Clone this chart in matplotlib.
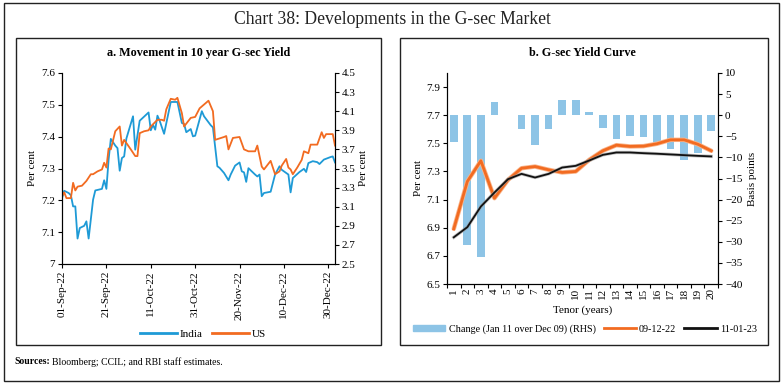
import numpy as np
import pandas as pd
import matplotlib
matplotlib.use('Agg')
import matplotlib.pyplot as plt
import matplotlib.dates as mdates
from matplotlib.patches import Rectangle
from matplotlib.lines import Line2D
from matplotlib import rcParams

rcParams['font.family'] = 'Liberation Serif'

C_IND = '#1E9AD6'
C_US = '#F26B21'
C_BAR = '#8DC4E6'
C_BLK = '#111111'

# ---- panel a data: 10-year yields ----
india_dates = ['2022-09-01', '2022-09-02', '2022-09-04', '2022-09-05', '2022-09-06', '2022-09-07',
               '2022-09-08', '2022-09-09', '2022-09-11', '2022-09-12', '2022-09-13', '2022-09-15',
               '2022-09-16', '2022-09-19', '2022-09-20', '2022-09-21', '2022-09-22', '2022-09-23',
               '2022-09-25', '2022-09-26', '2022-09-27', '2022-09-28', '2022-09-29', '2022-09-30',
               '2022-10-03', '2022-10-04', '2022-10-06', '2022-10-10', '2022-10-11', '2022-10-12',
               '2022-10-13', '2022-10-14', '2022-10-15', '2022-10-17', '2022-10-20', '2022-10-23',
               '2022-10-25', '2022-10-26', '2022-10-27', '2022-10-29', '2022-10-30', '2022-10-31',
               '2022-11-03', '2022-11-04', '2022-11-07', '2022-11-08', '2022-11-10', '2022-11-11',
               '2022-11-13', '2022-11-15', '2022-11-16', '2022-11-18', '2022-11-20', '2022-11-21',
               '2022-11-22', '2022-11-23', '2022-11-24', '2022-11-27', '2022-11-28', '2022-11-29',
               '2022-11-30', '2022-12-01', '2022-12-04', '2022-12-06', '2022-12-08', '2022-12-09',
               '2022-12-12', '2022-12-13', '2022-12-14', '2022-12-17', '2022-12-19', '2022-12-20',
               '2022-12-21', '2022-12-23', '2022-12-25', '2022-12-26', '2022-12-28', '2022-12-31',
               '2023-01-01', '2023-01-02']
india_yield = [7.207, 7.230, 7.223, 7.216, 7.181, 7.181,
               7.080, 7.113, 7.120, 7.134, 7.080, 7.202,
               7.231, 7.236, 7.263, 7.236, 7.328, 7.393,
               7.372, 7.364, 7.293, 7.333, 7.338, 7.394,
               7.464, 7.359, 7.450, 7.476, 7.420, 7.437,
               7.422, 7.466, 7.450, 7.409, 7.509, 7.509,
               7.443, 7.440, 7.414, 7.424, 7.401, 7.403,
               7.480, 7.464, 7.436, 7.429, 7.307, 7.302,
               7.286, 7.263, 7.281, 7.309, 7.319, 7.291,
               7.288, 7.258, 7.301, 7.281, 7.275, 7.281,
               7.213, 7.223, 7.227, 7.281, 7.307, 7.296,
               7.281, 7.225, 7.270, 7.289, 7.299, 7.289,
               7.317, 7.323, 7.320, 7.314, 7.328, 7.336,
               7.338, 7.319]

us_dates = ['2022-09-01', '2022-09-02', '2022-09-03', '2022-09-05', '2022-09-06', '2022-09-07',
            '2022-09-08', '2022-09-10', '2022-09-12', '2022-09-14', '2022-09-15', '2022-09-17',
            '2022-09-19', '2022-09-20', '2022-09-21', '2022-09-22', '2022-09-23', '2022-09-25',
            '2022-09-27', '2022-09-28', '2022-09-29', '2022-10-02', '2022-10-04', '2022-10-05',
            '2022-10-06', '2022-10-08', '2022-10-10', '2022-10-11', '2022-10-14', '2022-10-16',
            '2022-10-17', '2022-10-18', '2022-10-20', '2022-10-22', '2022-10-23', '2022-10-25',
            '2022-10-26', '2022-10-28', '2022-10-29', '2022-10-31', '2022-11-02', '2022-11-06',
            '2022-11-08', '2022-11-09', '2022-11-13', '2022-11-14', '2022-11-15', '2022-11-17',
            '2022-11-20', '2022-11-22', '2022-11-24', '2022-11-27', '2022-11-28', '2022-11-30',
            '2022-12-01', '2022-12-04', '2022-12-06', '2022-12-08', '2022-12-09', '2022-12-11',
            '2022-12-12', '2022-12-13', '2022-12-14', '2022-12-16', '2022-12-18', '2022-12-19',
            '2022-12-21', '2022-12-22', '2022-12-25', '2022-12-27', '2022-12-28', '2022-12-29',
            '2023-01-01', '2023-01-02']
us_yield = [3.21, 3.25, 3.19, 3.19, 3.35, 3.27,
            3.31, 3.32, 3.37, 3.44, 3.44, 3.47,
            3.49, 3.56, 3.51, 3.71, 3.70, 3.89,
            3.94, 3.74, 3.80, 3.70, 3.63, 3.63,
            3.87, 3.89, 3.90, 3.94, 4.01, 4.01,
            4.00, 4.12, 4.23, 4.22, 4.24, 4.08,
            3.94, 4.00, 4.03, 4.04, 4.13, 4.21,
            4.10, 3.80, 3.83, 3.84, 3.70, 3.82,
            3.83, 3.70, 3.68, 3.68, 3.74, 3.52,
            3.49, 3.58, 3.44, 3.47, 3.53, 3.60,
            3.51, 3.49, 3.44, 3.51, 3.59, 3.68,
            3.66, 3.75, 3.75, 3.88, 3.82, 3.86,
            3.86, 3.74]

date_ticks = ['2022-09-01', '2022-09-21', '2022-10-11', '2022-10-31',
              '2022-11-20', '2022-12-10', '2022-12-30']

# ---- panel b data: yield curve ----
tenor = list(range(1, 21))
curve_dec09 = [6.892, 7.229, 7.376, 7.110, 7.240, 7.323, 7.335, 7.312, 7.293, 7.300,
               7.383, 7.447, 7.487, 7.478, 7.480, 7.497, 7.525, 7.525, 7.494, 7.447]
curve_jan11 = [6.832, 6.904, 7.051, 7.150, 7.245, 7.283, 7.257, 7.283, 7.328, 7.340,
               7.378, 7.418, 7.435, 7.435, 7.430, 7.426, 7.421, 7.416, 7.411, 7.407]
change_bp = [-6.3, -30.7, -33.5, 3.1, 0.0, -3.2, -7.0, -3.2, 3.6, 3.6,
             0.8, -3.0, -5.7, -5.0, -5.1, -6.7, -8.1, -10.6, -8.9, -3.7]

W, H = 783, 384
fig = plt.figure(figsize=(W / 100, H / 100), dpi=100, facecolor='white')


def px_axes(x0, y0, x1, y1):
    return fig.add_axes([x0 / W, 1 - y1 / H, (x1 - x0) / W, (y1 - y0) / H])


def px_rect(x0, y0, x1, y1, lw=1.0):
    fig.patches.append(Rectangle((x0 / W, 1 - y1 / H), (x1 - x0) / W, (y1 - y0) / H,
                                 transform=fig.transFigure, fill=False,
                                 edgecolor='#222222', lw=lw))


# frames
px_rect(4, 3, 779, 381, lw=1.0)
px_rect(16, 38, 381, 345, lw=1.0)
px_rect(400, 38, 768, 345, lw=1.0)

fig.text(392 / W, 1 - 19 / H, 'Chart 38: Developments in the G-sec Market',
         ha='center', va='center', fontsize=12.7, color='#222222')
fig.text(14 / W, 1 - 362 / H, 'Sources:', ha='left', va='center',
         fontsize=7, fontweight='bold')
fig.text(52 / W, 1 - 362 / H, 'Bloomberg; CCIL; and RBI staff estimates.',
         ha='left', va='center', fontsize=7)

TICK_FS = 8

# ---------------- panel a ----------------
ax = px_axes(62, 73, 335, 264)
ax2 = ax.twinx()
di = pd.to_datetime(india_dates)
du = pd.to_datetime(us_dates)
ax.plot(di, india_yield, color=C_IND, lw=1.3)
ax2.plot(du, us_yield, color=C_US, lw=1.3)

ax.set_xlim(pd.Timestamp('2022-09-01'), pd.Timestamp('2023-01-02'))
ax.set_ylim(7.0, 7.6)
ax.set_yticks(np.arange(7.0, 7.61, 0.1))
ax.set_yticklabels(['7', '7.1', '7.2', '7.3', '7.4', '7.5', '7.6'])
ax2.set_ylim(2.5, 4.5)
ax2.set_yticks(np.arange(2.5, 4.51, 0.2))
ax2.set_yticklabels(['%.1f' % v for v in np.arange(2.5, 4.51, 0.2)])
ax.set_xticks(pd.to_datetime(date_ticks))
ax.xaxis.set_major_formatter(mdates.DateFormatter('%d-%b-%y'))
for lab in ax.get_xticklabels():
    lab.set_rotation(90)
for a in (ax, ax2):
    a.spines['top'].set_visible(False)
    a.tick_params(labelsize=TICK_FS, length=3, width=0.8, direction='out', pad=2)
ax.set_ylabel('Per cent', fontsize=TICK_FS, labelpad=3)
ax2.set_ylabel('Per cent', fontsize=TICK_FS, labelpad=2)
ax.set_title('a. Movement in 10 year G-sec Yield', fontsize=8.7, fontweight='bold', pad=12)
handles = [Line2D([], [], color=C_IND, lw=2), Line2D([], [], color=C_US, lw=2)]
fig.legend(handles, ['India', 'US'], loc='center', bbox_to_anchor=(203 / W, 1 - 334 / H),
           ncol=2, frameon=False, fontsize=8, handlelength=3.3, handletextpad=0.25,
           columnspacing=0.9)

# ---------------- panel b ----------------
bx = px_axes(447, 73, 718, 284)
bx2 = bx.twinx()
bx.set_zorder(bx2.get_zorder() + 1)
bx.patch.set_visible(False)
bx2.bar(tenor, change_bp, width=0.57, color=C_BAR, zorder=1)
bx.plot(tenor, curve_dec09, color='#F9B48A', lw=3.2, solid_capstyle='round')
bx.plot(tenor, curve_dec09, color=C_US, lw=2.0)
bx.plot(tenor, curve_jan11, color='#9A9A9A', lw=2.4, alpha=0.6)
bx.plot(tenor, curve_jan11, color=C_BLK, lw=1.3)

bx.set_xlim(0.5, 20.5)
bx.set_ylim(6.5, 8.0)
bx.set_yticks(np.arange(6.5, 7.91, 0.2))
bx.set_yticklabels(['%.1f' % v for v in np.arange(6.5, 7.91, 0.2)])
bx2.set_ylim(-40, 10)
bx2.set_yticks(np.arange(-40, 11, 5))
bx.set_xticks(tenor)
bx.set_xticklabels([str(t) for t in tenor], rotation=90)
bx.set_xticks(np.arange(0.5, 20.6, 1), minor=True)
bx.tick_params(axis='x', which='major', length=0, pad=3)
bx.tick_params(axis='x', which='minor', length=3, width=0.8)
for a in (bx, bx2):
    a.spines['top'].set_visible(False)
    a.tick_params(axis='y', length=3, width=0.8, direction='out', pad=2)
    a.tick_params(labelsize=TICK_FS)
bx.set_ylabel('Per cent', fontsize=TICK_FS, labelpad=2)
bx2.set_ylabel('Basis points', fontsize=TICK_FS, labelpad=4)
bx.set_xlabel('Tenor (years)', fontsize=TICK_FS, labelpad=4)
bx.set_title('b. G-sec Yield Curve', fontsize=8.7, fontweight='bold', pad=12)
handles_b = [Rectangle((0, 0), 1, 1, color=C_BAR),
             Line2D([], [], color=C_US, lw=2), Line2D([], [], color=C_BLK, lw=2)]
fig.legend(handles_b, ['Change (Jan 11 over Dec 09) (RHS)', '09-12-22', '11-01-23'],
           loc='center', bbox_to_anchor=(585 / W, 1 - 329 / H), ncol=3, frameon=False,
           fontsize=7.3, handlelength=3.2, handleheight=0.5, handletextpad=0.3,
           columnspacing=0.8)

fig.savefig('out.png', dpi=100, facecolor='white')
